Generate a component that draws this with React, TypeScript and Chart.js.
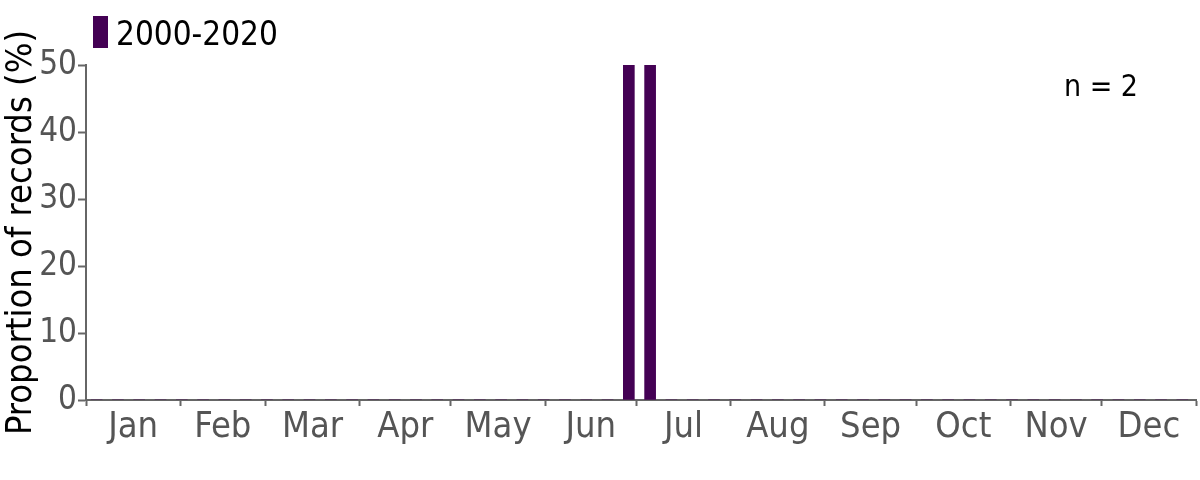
import React, { useEffect, useRef } from "react";
import { Chart, registerables } from "chart.js";

Chart.register(...registerables);

const monthLabels = ["Jan", "Feb", "Mar", "Apr", "May", "Jun", "Jul", "Aug", "Sep", "Oct", "Nov", "Dec"];
const monthDays = [31, 28, 31, 30, 31, 30, 31, 31, 30, 31, 30, 31];
const weekNumbers = Array.from({ length: 52 }, (_, i) => i + 1);
const weekValues = [
  0, 0, 0, 0, 0, 0, 0, 0, 0, 0, 0, 0, 0,
  0, 0, 0, 0, 0, 0, 0, 0, 0, 0, 0, 0, 50,
  50, 0, 0, 0, 0, 0, 0, 0, 0, 0, 0, 0, 0,
  0, 0, 0, 0, 0, 0, 0, 0, 0, 0, 0, 0, 0,
];
const seriesLabel = "2000-2020";
const nLabel = "n = 2";
const yTicks = [0, 10, 20, 30, 40, 50];

const FONT = "'DejaVu Sans Condensed', 'DejaVu Sans', sans-serif";

export default function App() {
  const ref = useRef<HTMLCanvasElement | null>(null);
  useEffect(() => {
    document.body.style.margin = "0";
    const bounds: number[] = [0];
    monthDays.forEach((d) => bounds.push(bounds[bounds.length - 1] + d));
    const mids = monthDays.map((d, i) => bounds[i] + d / 2);
    const labelAt = new Map<number, string>();
    mids.forEach((m, i) => labelAt.set(m, monthLabels[i]));
    const boundSet = new Set(bounds);

    const extras = {
      id: "extras",
      afterDraw(chart: any) {
        const { ctx, chartArea } = chart;
        ctx.save();
        ctx.fillStyle = "#440154";
        ctx.fillRect(chartArea.left + 7, 16, 15, 32);
        ctx.fillStyle = "#000";
        ctx.font = `33px ${FONT}`;
        ctx.textBaseline = "alphabetic";
        ctx.textAlign = "left";
        ctx.fillText(seriesLabel, chartArea.left + 30, 45);
        ctx.font = `30px ${FONT}`;
        ctx.textAlign = "right";
        ctx.fillText(nLabel, 1138, 96);
        ctx.restore();
      },
    };

    const chart = new Chart(ref.current!, {
      type: "bar",
      data: {
        datasets: [
          {
            label: seriesLabel,
            data: weekNumbers.map((w, i) => ({ x: (w - 1) * 7 + 3.5, y: weekValues[i] })),
            backgroundColor: "#440154",
            barThickness: 11,
            borderWidth: 0,
          },
        ],
      },
      options: {
        responsive: false,
        animation: false,
        layout: { padding: { top: 65, right: 4, left: 0, bottom: 0 } },
        plugins: { legend: { display: false }, tooltip: { enabled: false } },
        scales: {
          x: {
            type: "linear",
            min: 0,
            max: 365,
            offset: false,
            afterBuildTicks(scale: any) {
              const vals = [...bounds, ...mids].sort((a, b) => a - b);
              scale.ticks = vals.map((v) => ({ value: v }));
            },
            afterFit(scale: any) {
              scale.height = 80;
            },
            border: { color: "#666", width: 2 },
            grid: {
              offset: false,
              drawOnChartArea: false,
              drawTicks: true,
              tickLength: 6,
              tickWidth: 2,
              tickColor: (c: any) => (c.tick && boundSet.has(c.tick.value) ? "#666" : "rgba(0,0,0,0)"),
            },
            ticks: {
              autoSkip: false,
              maxRotation: 0,
              color: "#555",
              font: { family: FONT, size: 36 },
              padding: 0,
              callback: (v: any) => labelAt.get(Number(v)) ?? "",
            },
          },
          y: {
            min: 0,
            max: 50,
            afterBuildTicks(scale: any) {
              scale.ticks = yTicks.map((v) => ({ value: v }));
            },
            afterFit(scale: any) {
              scale.width = 86;
            },
            border: { color: "#666", width: 2 },
            grid: { drawOnChartArea: false, drawTicks: true, tickLength: 8, tickWidth: 2, tickColor: "#666" },
            ticks: { color: "#555", font: { family: FONT, size: 33 }, padding: 1 },
            title: {
              display: true,
              text: "Proportion of records (%)",
              color: "#000",
              font: { family: FONT, size: 36 },
              padding: 0,
            },
          },
        },
      },
      plugins: [extras],
    });
    return () => chart.destroy();
  }, []);
  return (
    <div style={{ position: "absolute", left: 0, top: 0, width: 1200, height: 480 }}>
      <canvas ref={ref} width={1200} height={480} />
    </div>
  );
}
